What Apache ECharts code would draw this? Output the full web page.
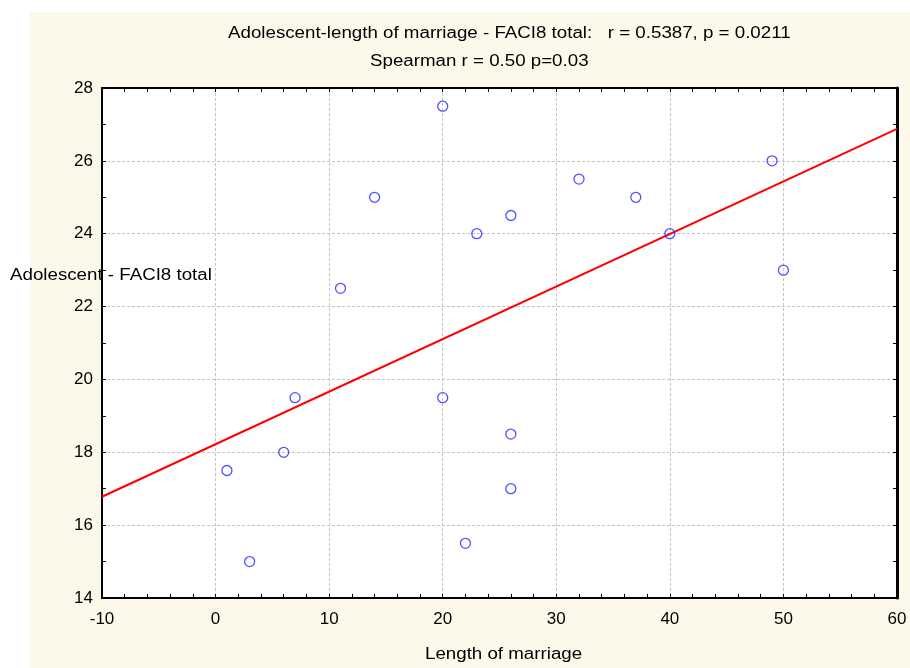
<!doctype html>
<html lang="en">

<head>
    <meta charset="UTF-8">
    <title>Adolescent - FACI8 total</title>
    <style>
        html, body { margin: 0; padding: 0; background: #fff; }
    </style>
</head>

<body>
    <div id="main" style="width: 910px;height:668px;"></div>
    <script src="https://cdn.jsdelivr.net/npm/echarts@6/dist/echarts.min.js"></script>
    <script>
        // length of marriage (years) and FACI8 total score
        var marriageYears = [1, 3, 6, 7, 11, 14, 20, 20, 22, 23, 26, 26, 26, 32, 37, 40, 49, 50];
        var faciTotal = [17.5, 15, 18, 19.5, 22.5, 25, 27.5, 19.5, 15.5, 24, 24.5, 18.5, 17, 25.5, 25, 24, 26, 23];
        // fitted line end points
        var fitX = [-10, 60];
        var fitY = [16.78, 26.88];

        var titleLine1 = 'Adolescent-length of marriage - FACI8 total:   r = 0.5387, p = 0.0211';
        var titleLine2 = 'Spearman r = 0.50 p=0.03';
        var xName = 'Length of marriage';
        var yName = 'Adolescent - FACI8 total';

        var font = 'Liberation Sans, Arial, sans-serif';
        var myChart = echarts.init(document.getElementById('main'));

        var points = marriageYears.map(function(x, i) { return [x, faciTotal[i]]; });
        var fitLine = fitX.map(function(x, i) { return [x, fitY[i]]; });

        // the original text is a little wider than plain Arial, so stretch it
        function label(text, x, y) {
            return {
                type: 'text',
                x: x,
                y: y,
                scaleX: 1.17,
                z: 100,
                silent: true,
                style: { text: text, fill: '#000', fontSize: 16, fontFamily: font, textVerticalAlign: 'top' }
            };
        }

        function frameAxis(pos, isX) {
            return {
                type: 'value',
                position: pos,
                min: isX ? -10 : 14,
                max: isX ? 60 : 28,
                interval: isX ? 10 : 2,
                axisLine: { show: true, onZero: false, lineStyle: { color: '#000', width: 2 } },
                axisTick: { show: true, inside: true, length: 4, lineStyle: { color: '#000' } },
                minorTick: { show: true, splitNumber: isX ? 5 : 2, length: 4, lineStyle: { color: '#000' } },
                axisLabel: { show: false },
                splitLine: { show: false }
            };
        }

        var gridLines = { show: true, lineStyle: { color: '#c4c4c4', type: [3, 2], width: 1 } };

        var xMain = frameAxis('bottom', true);
        xMain.axisLabel = { show: true, color: '#000', fontSize: 17, fontFamily: font, margin: 13 };
        xMain.splitLine = gridLines;

        var yMain = frameAxis('left', false);
        yMain.axisLabel = { show: true, color: '#000', fontSize: 17, fontFamily: font, margin: 9 };
        yMain.splitLine = gridLines;

        var yRight = frameAxis('right', false);
        yRight.axisLine.lineStyle.width = 3;

        option = {
            backgroundColor: '#fff',
            animation: false,
            textStyle: { fontFamily: font },
            graphic: [{
                type: 'rect',
                z: -100,
                silent: true,
                shape: { x: 30, y: 12, width: 880, height: 656 },
                style: { fill: '#fdf9ea' }
            },
                label(titleLine1, 228, 26),
                label(titleLine2, 370, 54),
                label(xName, 425, 647),
                label(yName, 10, 268)
            ],
            grid: {
                left: 102,
                right: 13,
                top: 88,
                bottom: 70,
                show: true,
                backgroundColor: '#fff',
                borderWidth: 0
            },
            xAxis: [xMain, frameAxis('top', true)],
            yAxis: [yMain, yRight],
            series: [{
                type: 'line',
                data: fitLine,
                showSymbol: false,
                symbol: 'none',
                silent: true,
                lineStyle: { color: '#ff0000', width: 2 },
                z: 2
            }, {
                type: 'scatter',
                data: points,
                symbol: 'circle',
                symbolSize: 10,
                itemStyle: { color: 'rgba(0,0,0,0)', borderColor: '#2626ff', borderWidth: 1.3 },
                z: 3
            }]
        };

        myChart.setOption(option);
    </script>
</body>

</html>
